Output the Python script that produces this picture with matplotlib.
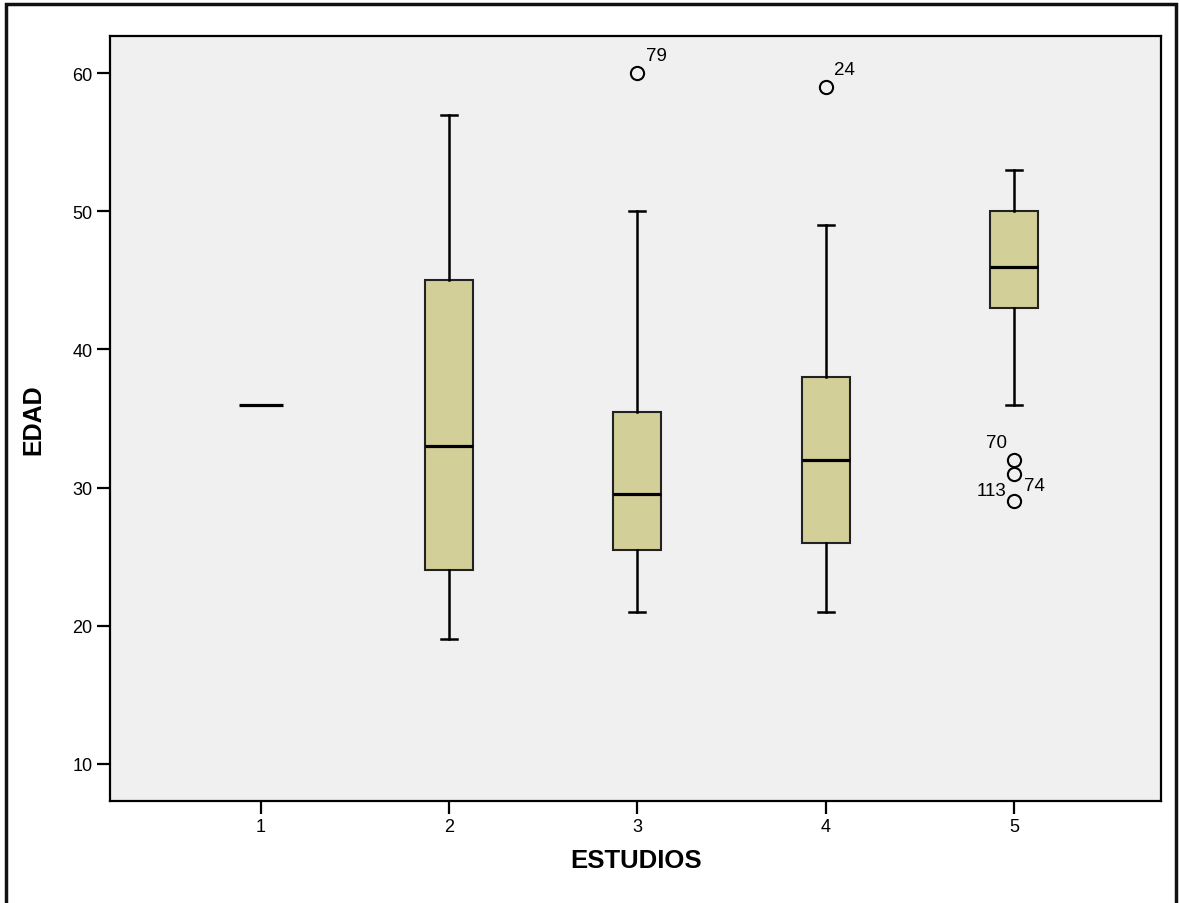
import matplotlib
matplotlib.use("Agg")
import matplotlib.pyplot as plt
from matplotlib.patches import Rectangle

plt.rcParams['font.family'] = ['Liberation Sans', 'DejaVu Sans']

# Educational level groups and age distribution summary
estudios = [1, 2, 3, 4, 5]
q1 = [36, 24, 25.5, 26, 43]
medianas = [36, 33, 29.5, 32, 46]
q3 = [36, 45, 35.5, 38, 50]
bigote_inf = [36, 19, 21, 21, 36]
bigote_sup = [36, 57, 50, 49, 53]
atipicos = [[], [], [60], [59], [32, 31, 29]]
etiquetas_atipicos = [[], [], ["79"], ["24"], ["70", "74", "113"]]

W, H = 1179, 904
fig = plt.figure(figsize=(W / 100, H / 100), dpi=100)
ax = fig.add_axes([110 / W, 1 - 802 / H, (1161 - 110) / W, (802 - 37) / H])
ax.set_facecolor('#f0f0f0')

stats = []
for i in range(len(estudios)):
    stats.append(dict(q1=q1[i], med=medianas[i], q3=q3[i],
                      whislo=bigote_inf[i], whishi=bigote_sup[i],
                      fliers=atipicos[i]))

# Group 1 has a single value: only its median line is visible
ax.bxp(stats[:1], positions=estudios[:1], widths=0.235, patch_artist=True,
       showfliers=False, showcaps=False,
       boxprops=dict(facecolor='none', edgecolor='none', linewidth=0),
       whiskerprops=dict(linewidth=0),
       medianprops=dict(color='black', linewidth=2.3, solid_capstyle='butt'))

ax.bxp(stats[1:], positions=estudios[1:], widths=0.255, patch_artist=True,
       capwidths=0.085,
       boxprops=dict(facecolor='#d3cf98', edgecolor='#222222', linewidth=1.5),
       whiskerprops=dict(color='black', linewidth=1.8),
       capprops=dict(color='black', linewidth=1.8),
       medianprops=dict(color='black', linewidth=2.3, solid_capstyle='butt'),
       flierprops=dict(marker='o', markersize=9.5, markerfacecolor='none',
                       markeredgecolor='black', markeredgewidth=1.5))

# Case-number labels beside outliers (offsets in pixels, label centred)
offsets = {"79": (19, 18), "24": (19, 17.5),
           "70": (-18, 17), "74": (20, -12), "113": (-23, 11)}
for x, vals, labs in zip(estudios, atipicos, etiquetas_atipicos):
    for v, lab in zip(vals, labs):
        dx, dy = offsets[lab]
        ax.annotate(lab, (x, v), xytext=(dx * 0.72, dy * 0.72),
                    textcoords='offset points',
                    ha='center', va='center', fontsize=13.5)

ax.set_xlim(0.2, 5.78)
ax.set_ylim(7.3, 62.7)
ax.set_xticks(estudios)
ax.set_yticks([10, 20, 30, 40, 50, 60])
ax.set_xticklabels([str(e) for e in estudios])
ax.tick_params(axis='both', direction='out', length=9.5, width=1.6,
               labelsize=13, pad=3)
for s in ax.spines.values():
    s.set_linewidth(1.6)

ax.set_xlabel('ESTUDIOS', fontsize=18.5, fontweight='bold', va='center')
ax.set_ylabel('EDAD', fontsize=18, fontweight='bold', va='center')
ax.xaxis.set_label_coords((636 - 110) / (1161 - 110), (802 - 861) / (802 - 37))
ax.yaxis.set_label_coords((33 - 110) / (1161 - 110), 0.5)

# Outer frame around the figure
fig.patches.append(Rectangle((6 / W, -0.01), (1176 - 6) / W, (1 - 5 / H) + 0.01,
                             transform=fig.transFigure, fill=False,
                             edgecolor='#111111', linewidth=2.5))

fig.savefig('out.png', dpi=100)
